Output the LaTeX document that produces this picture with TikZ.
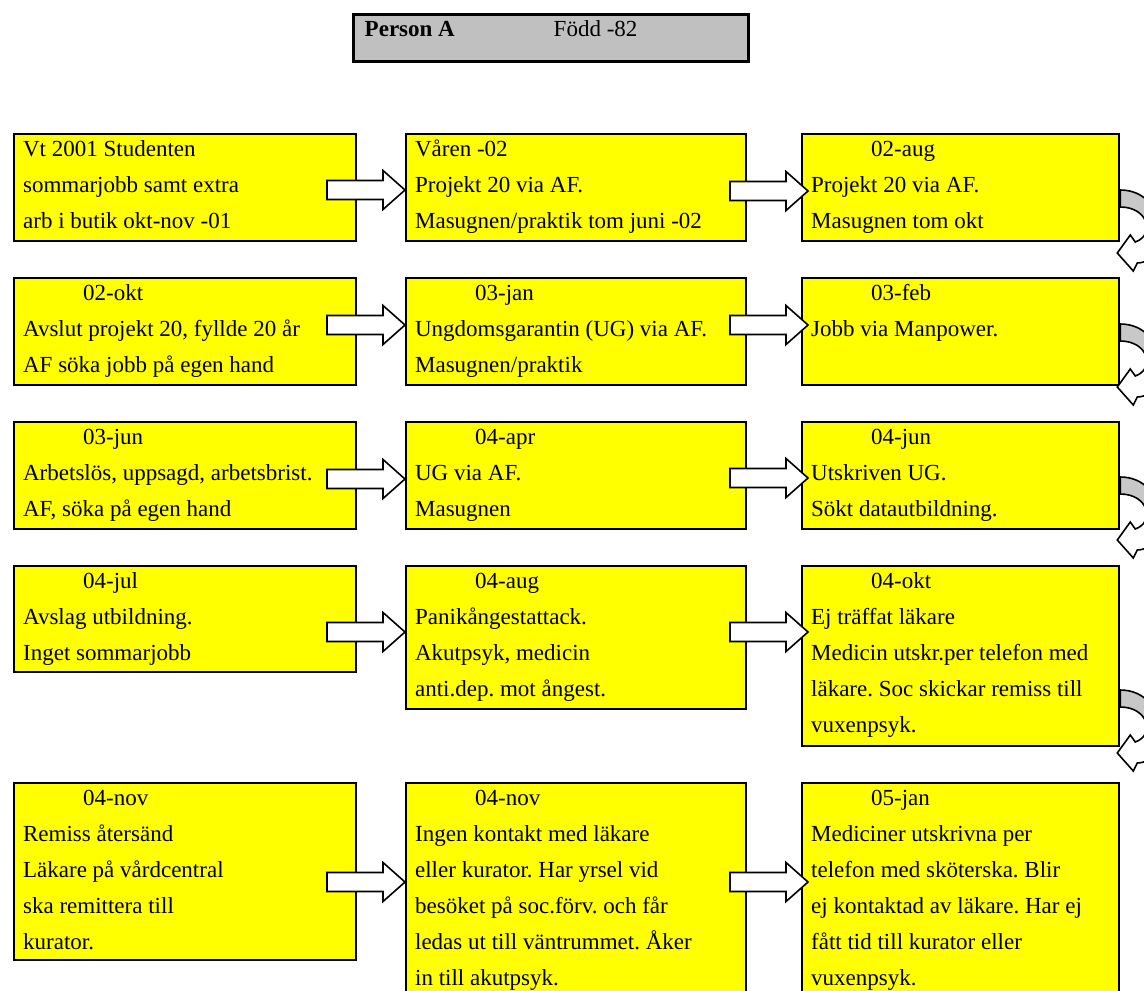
\documentclass[tikz,border=0pt]{standalone}
\usepackage{fontspec}
\setmainfont{Liberation Serif}
\usetikzlibrary{calc}
\definecolor{cardyellow}{RGB}{255, 255, 0}
\definecolor{headgray}{RGB}{192, 192, 192}
\definecolor{bandgray}{RGB}{200, 200, 200}
\frenchspacing
\newcommand{\datum}[1]{\hspace*{45pt}#1}
\newcommand{\cardbody}[3]{\parbox[t][#2][t]{#1}{\rule{0pt}{16.5pt}\ignorespaces#3}}
\newcommand{\turnpath}{(0,0) .. controls (48,0) and (52,72) .. (17,73) -- (13,81) -- (-3,63) -- (10,45) -- (15,52) .. controls (35,45) and (28,17) .. (0,17) -- cycle}

\begin{document}
\begin{tikzpicture}[
  x=0.75pt, y=-0.75pt,
  card/.style={draw, line width=1.7pt, fill=cardyellow, anchor=north west, inner xsep=6.75pt, inner ysep=0pt, font=\fontsize{17.25}{27}\selectfont},
  headbox/.style={draw, line width=2.6pt, fill=headgray, anchor=north west, inner xsep=8.25pt, inner ysep=0pt, font=\fontsize{17.25}{27}\selectfont},
  arrowline/.style={draw, line width=1.2pt, line join=miter},
  fwdarrow/.pic={
    \draw[arrowline, fill=white] (-78,-9.5) -- (-22,-9.5) -- (-22,-19.5) -- (0,0) -- (-22,19.5) -- (-22,9.5) -- (-78,9.5) -- cycle;
  },
  turnarrow/.pic={
    \fill[white] \turnpath;
    \begin{scope}
      \clip (-5,-5) rectangle (80,37);
      \fill[bandgray] \turnpath;
    \end{scope}
    \draw[arrowline] \turnpath;
  }
]
  \useasboundingbox (0,0) rectangle (1144,990);
  \clip (0,0) rectangle (1144,990);

  \node[headbox] (head) at (352,13) {\parbox[t][35.25pt][t]{279.75pt}{\rule{0pt}{16pt}\makebox[141.75pt][l]{\textbf{Person A}}Född -82}};

  \node[card] (r1a) at (13,133) {\cardbody{243pt}{80pt}{
    Vt 2001 Studenten\\
    sommarjobb samt extra\\
    arb i butik okt-nov -01}};
  \node[card] (r1b) at (405,133) {\cardbody{241.5pt}{80pt}{
    Våren -02\\
    Projekt 20 via AF.\\
    Masugnen/praktik tom juni -02}};
  \node[card] (r1c) at (801,133) {\cardbody{224.25pt}{80pt}{
    \datum{02-aug}\\
    Projekt 20 via AF.\\
    Masugnen tom okt}};

  \node[card] (r2a) at (13,277) {\cardbody{243pt}{80pt}{
    \datum{02-okt}\\
    Avslut projekt 20, fyllde 20 år\\
    AF söka jobb på egen hand}};
  \node[card] (r2b) at (405,277) {\cardbody{241.5pt}{80pt}{
    \datum{03-jan}\\
    Ungdomsgarantin (UG) via AF.\\
    Masugnen/praktik}};
  \node[card] (r2c) at (801,277) {\cardbody{224.25pt}{80pt}{
    \datum{03-feb}\\
    Jobb via Manpower.}};

  \node[card] (r3a) at (13,421) {\cardbody{243pt}{80pt}{
    \datum{03-jun}\\
    Arbetslös, uppsagd, arbetsbrist.\\
    AF, söka på egen hand}};
  \node[card] (r3b) at (405,421) {\cardbody{241.5pt}{80pt}{
    \datum{04-apr}\\
    UG via AF.\\
    Masugnen}};
  \node[card] (r3c) at (801,421) {\cardbody{224.25pt}{80pt}{
    \datum{04-jun}\\
    Utskriven UG.\\
    Sökt datautbildning.}};

  \node[card] (r4a) at (13,565) {\cardbody{243pt}{79.5pt}{
    \datum{04-jul}\\
    Avslag utbildning.\\
    Inget sommarjobb}};
  \node[card] (r4b) at (405,565) {\cardbody{241.5pt}{107.25pt}{
    \datum{04-aug}\\
    Panikångestattack.\\
    Akutpsyk, medicin\\
    anti.dep. mot ångest.}};
  \node[card] (r4c) at (801,565) {\cardbody{224.25pt}{135pt}{
    \datum{04-okt}\\
    Ej träffat läkare\\
    Medicin utskr.per telefon med\\
    läkare. Soc skickar remiss till\\
    vuxenpsyk.}};

  \node[card] (r5a) at (13,782) {\cardbody{243pt}{132.75pt}{
    \datum{04-nov}\\
    Remiss återsänd\\
    Läkare på vårdcentral\\
    ska remittera till\\
    kurator.}};
  \node[card] (r5b) at (405,782) {\cardbody{241.5pt}{175pt}{
    \datum{04-nov}\\
    Ingen kontakt med läkare\\
    eller kurator. Har yrsel vid\\
    besöket på soc.förv. och får\\
    ledas ut till väntrummet. Åker\\
    in till akutpsyk.}};
  \node[card] (r5c) at (801,782) {\cardbody{224.25pt}{175pt}{
    \datum{05-jan}\\
    Mediciner utskrivna per\\
    telefon med sköterska. Blir\\
    ej kontaktad av läkare. Har ej\\
    fått tid till kurator eller\\
    vuxenpsyk.}};

  \pic at ($(r1b.north west)+(0,57)$) {fwdarrow};
  \pic at ($(r1c.north west)+(7,58)$) {fwdarrow};
  \pic at ($(r2b.north west)+(0,48)$) {fwdarrow};
  \pic at ($(r2c.north west)+(7,48)$) {fwdarrow};
  \pic at ($(r3b.north west)+(0,58)$) {fwdarrow};
  \pic at ($(r3c.north west)+(7,57)$) {fwdarrow};
  \pic at ($(r4b.north west)+(0,67)$) {fwdarrow};
  \pic at ($(r4c.north west)+(7,67)$) {fwdarrow};
  \pic at ($(r5b.north west)+(0,100)$) {fwdarrow};
  \pic at ($(r5c.north west)+(7,100)$) {fwdarrow};

  \pic at ($(r1c.north east)+(0,57)$) {turnarrow};
  \pic at ($(r2c.north east)+(0,47)$) {turnarrow};
  \pic at ($(r3c.north east)+(0,56)$) {turnarrow};
  \pic at ($(r4c.north east)+(0,125)$) {turnarrow};
\end{tikzpicture}
\end{document}
